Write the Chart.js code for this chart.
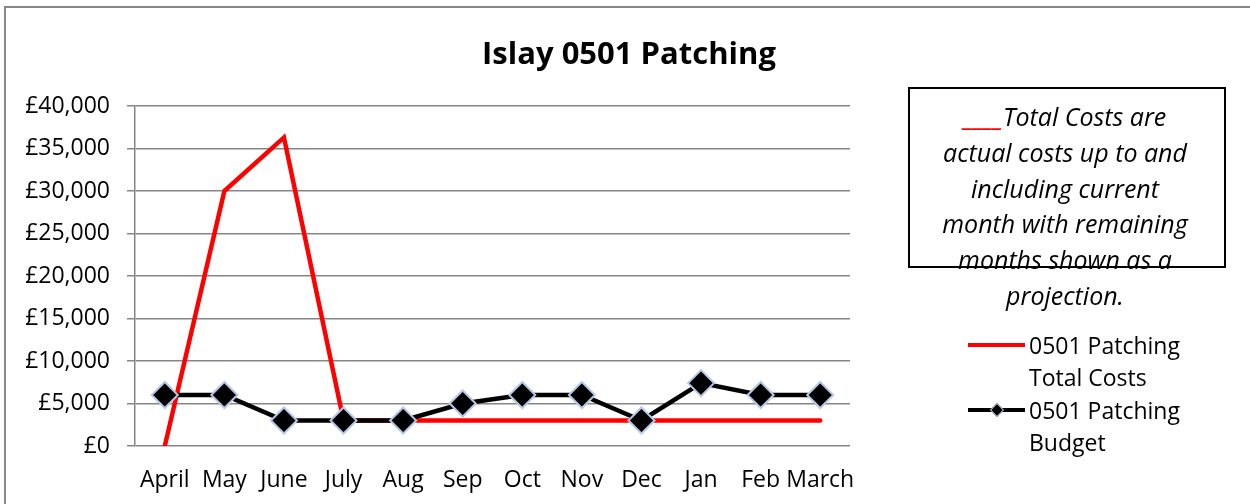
<!DOCTYPE html>
<html>
<head>
<meta charset="utf-8">
<script src="https://cdn.jsdelivr.net/npm/chart.js@4/dist/chart.umd.min.js"></script>
<style>
html,body{margin:0;padding:0;background:#fff;}
#wrap{position:relative;width:1250px;height:504px;overflow:hidden;font-family:"Open Sans",sans-serif;color:#000;}
#frame{position:absolute;left:4px;top:6px;width:1300px;height:600px;border-left:2px solid #878787;border-top:2px solid #878787;}
#c{position:absolute;left:0;top:0;}
#title{position:absolute;left:0;top:31px;width:1258px;text-align:center;font-weight:bold;font-size:31px;line-height:42px;}
#box{position:absolute;left:908px;top:87px;width:318px;height:181px;border:2px solid #000;box-sizing:border-box;}
#note{position:absolute;left:895px;top:99px;width:340px;text-align:center;font-style:italic;font-size:25px;line-height:35.8px;}
.lg{position:absolute;left:1029px;font-size:23px;line-height:32px;}
.sw{position:absolute;left:968px;width:57px;height:4px;}
.dm{position:absolute;width:8px;height:8px;background:#000;border:1px solid #b4c7e7;transform:rotate(45deg);}
</style>
</head>
<body>
<div id="wrap">
  <div id="frame"></div>
  <canvas id="c" width="1250" height="504"></canvas>
  <div id="title">Islay 0501 Patching</div>
  <div id="box"></div>
  <div id="note"><span style="color:#ff0000">____</span>Total Costs are<br>actual costs up to and<br>including current<br>month with remaining<br>months shown as a<br>projection.</div>
  <div class="sw" style="top:343px;background:#ff0000;"></div>
  <div class="lg" style="top:329px;">0501 Patching<br>Total Costs</div>
  <div class="sw" style="top:408px;background:#000;"></div>
  <div class="dm" style="left:992px;top:405px;"></div>
  <div class="lg" style="top:394px;">0501 Patching<br>Budget</div>
</div>
<script>
const months = ['April','May','June','July','Aug','Sep','Oct','Nov','Dec','Jan','Feb','March'];
const totalCosts = [0, 30000, 36300, 3000, 3000, 3000, 3000, 3000, 3000, 3000, 3000, 3000];
const budget = [6000, 6000, 3000, 3000, 3000, 5000, 6000, 6000, 3000, 7400, 6000, 6000];
const yMin = 0, yMax = 40000, yStep = 5000;

const fmt = v => '£' + Number(v).toLocaleString('en-GB');
const tickFont = {family: 'Open Sans', size: 23};

new Chart(document.getElementById('c'), {
  type: 'line',
  data: {
    labels: months,
    datasets: [
      {label: '0501 Patching Budget', data: budget, borderColor: '#000', borderWidth: 4.5,
       pointStyle: 'rectRot', pointRadius: 13, pointBackgroundColor: '#000',
       pointBorderColor: '#b4c7e7', pointBorderWidth: 2, tension: 0, order: 0},
      {label: '0501 Patching Total Costs', data: totalCosts, borderColor: '#ff0000',
       borderWidth: 4.5, pointRadius: 0, borderCapStyle: 'round', tension: 0, order: 1}
    ]
  },
  options: {
    responsive: false,
    animation: false,
    events: [],
    layout: {padding: {top: 106, right: 400, left: 0, bottom: 0}},
    plugins: {legend: {display: false}, title: {display: false}, tooltip: {enabled: false}},
    scales: {
      x: {
        offset: true,
        grid: {display: false, drawTicks: false, offset: true},
        border: {display: false},
        ticks: {color: '#000', font: tickFont, padding: 21, maxRotation: 0, autoSkip: false},
        afterFit(s) { s.height = 58; }
      },
      y: {
        min: yMin, max: yMax,
        ticks: {stepSize: yStep, color: '#000', font: tickFont, padding: 17, callback: fmt},
        grid: {color: '#868686', lineWidth: 1.5, tickLength: 8},
        border: {color: '#868686', width: 1.5},
        afterFit(s) { s.width = 135; }
      }
    }
  }
});
</script>
</body>
</html>
